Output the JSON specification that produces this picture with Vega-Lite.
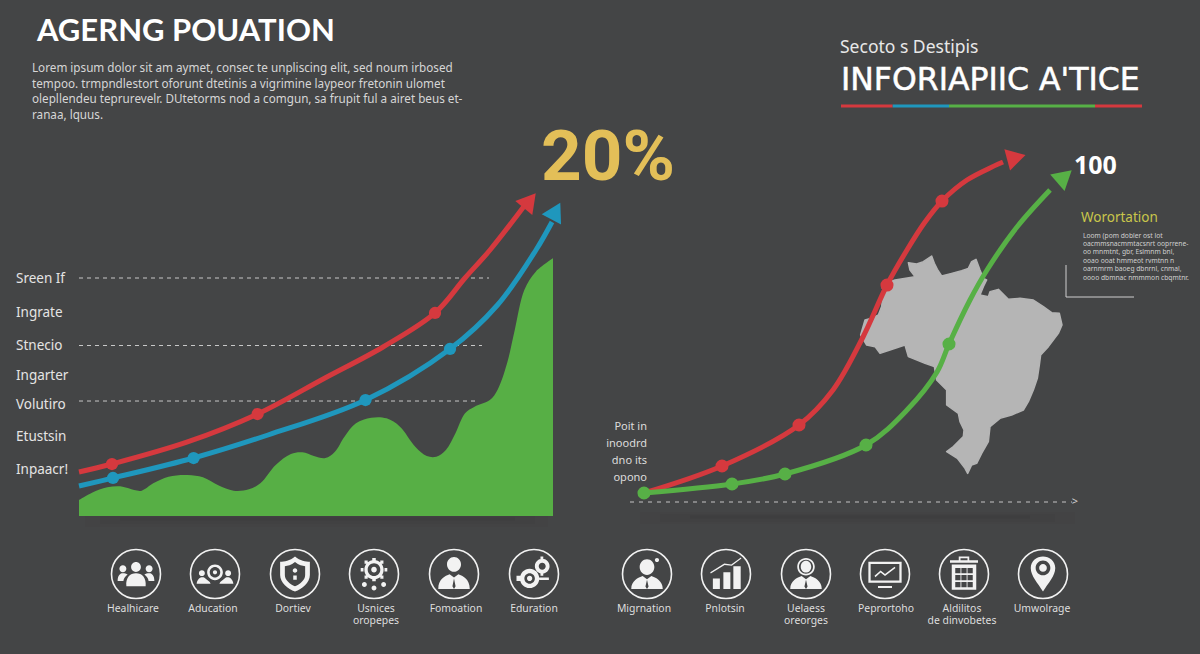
{"$schema":"https://vega.github.io/schema/vega-lite/v6.json","width":1200,"height":654,"padding":0,"autosize":{"type":"fit","contains":"padding"},"background":"#444546","config":{"view":{"stroke":null}},
"datasets":{
"leftArea":[{"t":0,"v":4.44},{"t":2.74,"v":6.48},{"t":5.97,"v":7.96},{"t":9.2,"v":8.15},{"t":11.62,"v":7.22},{"t":13.24,"v":7.04},{"t":15.66,"v":9.07},{"t":18.89,"v":10.93},{"t":22.92,"v":11.39},{"t":26.15,"v":10.74},{"t":29.38,"v":8.52},{"t":32.61,"v":7.04},{"t":35.84,"v":7.41},{"t":38.26,"v":9.07},{"t":41.49,"v":14.17},{"t":44.71,"v":17.22},{"t":47.13,"v":17.69},{"t":49.56,"v":16.67},{"t":51.98,"v":16.11},{"t":53.99,"v":17.87},{"t":56.01,"v":22.04},{"t":58.43,"v":25.74},{"t":61.66,"v":27.31},{"t":64.89,"v":27.13},{"t":67.72,"v":24.81},{"t":70.94,"v":19.26},{"t":73.37,"v":16.67},{"t":75.38,"v":16.48},{"t":77.4,"v":18.33},{"t":79.42,"v":22.96},{"t":81.44,"v":28.52},{"t":83.45,"v":30.37},{"t":86.68,"v":32.22},{"t":88.29,"v":35},{"t":90.31,"v":42.41},{"t":91.93,"v":51.67},{"t":93.95,"v":62.78},{"t":96.37,"v":67.87},{"t":100,"v":71.57}],
"leftLines":[{"s":"red","t":0,"v":12.22},{"s":"red","t":6.96,"v":14.44},{"s":"red","t":22.89,"v":20.56},{"s":"red","t":37.68,"v":28.33},{"s":"red","t":51.9,"v":38.33},{"s":"red","t":64.14,"v":46.94},{"s":"red","t":75.11,"v":56.39},{"s":"red","t":81.43,"v":66.11},{"s":"red","t":86.71,"v":73.89},{"s":"red","t":94.09,"v":86.39},{"s":"blue","t":0,"v":8.33},{"s":"blue","t":7.17,"v":10.56},{"s":"blue","t":24.18,"v":16.11},{"s":"blue","t":39.87,"v":22.5},{"s":"blue","t":60.44,"v":32.22},{"s":"blue","t":78.27,"v":46.39},{"s":"blue","t":88.29,"v":58.61},{"s":"blue","t":96.41,"v":73.89},{"s":"blue","t":99.79,"v":81.67}],
"leftDots":[{"s":"red","t":6.96,"v":14.44},{"s":"red","t":37.68,"v":28.33},{"s":"red","t":75.11,"v":56.39},{"s":"blue","t":7.17,"v":10.56},{"s":"blue","t":24.18,"v":16.11},{"s":"blue","t":60.44,"v":32.22},{"s":"blue","t":78.27,"v":46.39}],
"leftHeads":[{"s":"red","t":95.1,"v":87.6,"heading":39},{"s":"blue","t":100.6,"v":84.7,"heading":28}],
"leftGrid":[{"t":0,"t2":86.5,"v":66.11},{"t":0,"t2":85.02,"v":47.36},{"t":0,"t2":83.76,"v":31.94}],
"rightLines":[{"s":"red","t":0,"v":0},{"s":"red","t":18.14,"v":8.23},{"s":"red","t":36.05,"v":20.73},{"s":"red","t":43.95,"v":31.4},{"s":"red","t":50.93,"v":47.56},{"s":"red","t":56.51,"v":63.41},{"s":"red","t":61.16,"v":74.09},{"s":"red","t":65.35,"v":82.6},{"s":"red","t":69.3,"v":89.02},{"s":"red","t":75.12,"v":95.43},{"s":"red","t":83.49,"v":100.91},{"s":"green","t":0,"v":0},{"s":"green","t":20.47,"v":2.74},{"s":"green","t":32.79,"v":5.79},{"s":"green","t":51.63,"v":14.63},{"s":"green","t":61.16,"v":25.3},{"s":"green","t":68.14,"v":36.89},{"s":"green","t":70.93,"v":45.43},{"s":"green","t":75.81,"v":58.84},{"s":"green","t":79.77,"v":67.99},{"s":"green","t":86.74,"v":81.1},{"s":"green","t":94.42,"v":92.38}],
"rightDots":[{"s":"red","t":18.14,"v":8.23},{"s":"red","t":36.05,"v":20.73},{"s":"red","t":56.51,"v":63.41},{"s":"red","t":69.3,"v":89.02},{"s":"green","t":0,"v":0},{"s":"green","t":20.47,"v":2.74},{"s":"green","t":32.79,"v":5.79},{"s":"green","t":51.63,"v":14.63},{"s":"green","t":70.93,"v":45.43}],
"rightHeads":[{"s":"red","t":86.6,"v":102.3,"heading":75},{"s":"green","t":97.8,"v":96.5,"heading":49}],
"icons":[{"x":136,"y":574,"icon":"people"},{"x":215,"y":574,"icon":"education"},{"x":295,"y":574,"icon":"shield"},{"x":374,"y":574,"icon":"gearnodes"},{"x":454,"y":574,"icon":"persontie"},{"x":534,"y":574,"icon":"gears"},{"x":647,"y":574,"icon":"migrant"},{"x":726,"y":574,"icon":"bars"},{"x":806,"y":574,"icon":"headset"},{"x":885,"y":574,"icon":"monitor"},{"x":964,"y":574,"icon":"building"},{"x":1043,"y":574,"icon":"pin"}],
"iconLabels":[{"x":133,"y":609,"text":"Healhicare"},{"x":213,"y":609,"text":"Aducation"},{"x":293,"y":609,"text":"Dortiev"},{"x":376,"y":609,"text":"Usnices"},{"x":376,"y":621,"text":"oropepes"},{"x":456,"y":609,"text":"Fomoation"},{"x":534,"y":609,"text":"Eduration"},{"x":644,"y":609,"text":"Migrnation"},{"x":725,"y":609,"text":"Pnlotsin"},{"x":806,"y":609,"text":"Uelaess"},{"x":806,"y":621,"text":"oreorges"},{"x":886,"y":609,"text":"Peprortoho"},{"x":962,"y":609,"text":"Aldilitos"},{"x":962,"y":621,"text":"de dinvobetes"},{"x":1042,"y":609,"text":"Umwolrage"}],
"sideLabels":[{"x":16,"y":279,"text":"Sreen If"},{"x":16,"y":313,"text":"Ingrate"},{"x":16,"y":346,"text":"Stnecio"},{"x":16,"y":376,"text":"Ingarter"},{"x":16,"y":405,"text":"Volutiro"},{"x":16,"y":437,"text":"Etustsin"},{"x":16,"y":470,"text":"Inpaacr!"}],
"para":[{"x":32,"y":68,"text":"Lorem ipsum dolor sit am aymet, consec te unpliscing elit, sed noum irbosed"},{"x":32,"y":84,"text":"tempoo. trmpndlestort oforunt dtetinis a vigrimine laypeor fretonin ulomet"},{"x":32,"y":99,"text":"olepllendeu teprurevelr.  DUtetorms nod a comgun, sa frupit ful a airet beus et-"},{"x":32,"y":115,"text":"ranaa, lquus."}],
"smallPara":[{"x":1083,"y":236,"text":"Loom (pom dobler ost lot"},{"x":1083,"y":244,"text":"oacmmsnacmmtacsnrt ooprrene-"},{"x":1083,"y":252,"text":"oo mnmtnt, gbr, Eslmnm bnl,"},{"x":1083,"y":261,"text":"ooao ooat hmmeot rvmtnn n"},{"x":1083,"y":269,"text":"oarnmrm baoeg dbnrnl, cnmal,"},{"x":1083,"y":278,"text":"oooo dbmnac nmmmon cbqmtnr."}],
"pointLabels":[{"x":647,"y":427,"text":"Poit in"},{"x":647,"y":444,"text":"inoodrd"},{"x":647,"y":461,"text":"dno its"},{"x":647,"y":478,"text":"opono"}],
"stripe":[{"x":841,"x2":892.7,"y":106,"s":"red"},{"x":892.7,"x2":949,"y":106,"s":"blue"},{"x":949,"x2":1095,"y":106,"s":"green"},{"x":1095,"x2":1142,"y":106,"s":"red"}],
"bracket":[{"x":1066,"x2":1066,"y":265,"y2":297},{"x":1066,"x2":1134,"y":297,"y2":297}],
"shadowWide":[{"x":640,"x2":1075,"y":518},{"x":85,"x2":548,"y":521}],
"shadowMid":[{"x":660,"x2":1055,"y":518},{"x":100,"x2":535,"y":520}],
"shadowCore":[{"x":690,"x2":1030,"y":517},{"x":120,"x2":515,"y":519}]
},
"resolve":{"scale":{"x":"independent","y":"independent"}},
"layer":[
{"encoding":{"x":{"field":"x","type":"quantitative","scale":{"domain":[0,1200],"range":[0,1200]},"axis":null},"y":{"field":"y","type":"quantitative","scale":{"domain":[0,654],"range":[0,654]},"axis":null}},
"layer":[
{"data":{"name":"shadowWide"},"mark":{"type":"rule","stroke":"#303031","strokeWidth":12,"opacity":0.06},"encoding":{"x2":{"field":"x2"}}},
{"data":{"name":"shadowMid"},"mark":{"type":"rule","stroke":"#303031","strokeWidth":7,"opacity":0.1},"encoding":{"x2":{"field":"x2"}}},
{"data":{"name":"shadowCore"},"mark":{"type":"rule","stroke":"#303031","strokeWidth":3,"opacity":0.16},"encoding":{"x2":{"field":"x2"}}},
{"data":{"values":[{"x":37,"y":32,"text":"AGERNG POUATION"}]},"mark":{"type":"text","align":"left","baseline":"middle","font":"Lato","fontWeight":"bold","fontSize":31,"fill":"#ffffff"},"encoding":{"text":{"field":"text"}}},
{"data":{"name":"para"},"mark":{"type":"text","align":"left","baseline":"middle","font":"Noto Sans","fontSize":11.7,"fill":"#d6d6d6"},"encoding":{"text":{"field":"text"}}},
{"data":{"values":[{"x":541,"y":159,"text":"20%"}]},"mark":{"type":"text","align":"left","baseline":"middle","font":"Roboto","fontWeight":"bold","fontSize":71,"fill":"#E3BF58"},"encoding":{"text":{"field":"text"}}},
{"data":{"name":"sideLabels"},"mark":{"type":"text","align":"left","baseline":"middle","font":"Noto Sans","fontSize":13.5,"fill":"#e4e4e4"},"encoding":{"text":{"field":"text"}}},
{"data":{"values":[{"x":840,"y":48,"text":"Secoto s Destipis"}]},"mark":{"type":"text","align":"left","baseline":"middle","font":"Noto Sans","fontSize":17.5,"fill":"#e8e8e8"},"encoding":{"text":{"field":"text"}}},
{"data":{"values":[{"x":841,"y":81,"text":"INFORIAPIIC A'TICE"}]},"mark":{"type":"text","align":"left","baseline":"middle","font":"DejaVu Sans","fontSize":31.5,"fill":"#ffffff","stroke":"#ffffff","strokeWidth":0.5},"encoding":{"text":{"field":"text"}}},
{"data":{"name":"stripe"},"mark":{"type":"rule","strokeWidth":3},"encoding":{"x2":{"field":"x2"},"color":{"field":"s","type":"nominal","scale":{"domain":["red","blue","green"],"range":["#D5393E","#1F97BD","#57B046"]},"legend":null}}},
{"data":{"values":[{"x":1074,"y":166,"text":"100"}]},"mark":{"type":"text","align":"left","baseline":"middle","font":"Open Sans","fontWeight":"bold","fontSize":25,"fill":"#ffffff"},"encoding":{"text":{"field":"text"}}},
{"data":{"values":[{"x":1081,"y":218,"text":"Worortation"}]},"mark":{"type":"text","align":"left","baseline":"middle","font":"Noto Sans","fontSize":13.5,"fill":"#C9C64B"},"encoding":{"text":{"field":"text"}}},
{"data":{"name":"smallPara"},"mark":{"type":"text","align":"left","baseline":"middle","font":"Noto Sans","fontSize":6.7,"fill":"#d0d0d0"},"encoding":{"text":{"field":"text"}}},
{"data":{"name":"bracket"},"mark":{"type":"rule","stroke":"#cfcfcf","strokeWidth":1},"encoding":{"x2":{"field":"x2"},"y2":{"field":"y2"}}},
{"data":{"name":"pointLabels"},"mark":{"type":"text","align":"right","baseline":"middle","font":"Noto Sans","fontSize":11,"fill":"#dcdcdc"},"encoding":{"text":{"field":"text"}}},
{"data":{"values":[{"x":630,"x2":1072,"y":502}]},"mark":{"type":"rule","stroke":"#c4c4c4","strokeWidth":1,"strokeDash":[4,5]},"encoding":{"x2":{"field":"x2"}}},
{"data":{"values":[{"x":1075,"y":502,"text":">"}]},"mark":{"type":"text","align":"center","baseline":"middle","font":"Noto Sans","fontSize":11,"fill":"#d0d0d0"},"encoding":{"text":{"field":"text"}}},
{"data":{"name":"icons"},"mark":{"type":"point","shape":"circle","filled":false,"size":2401,"stroke":"#f2f2f2","strokeWidth":1.6,"opacity":1}},
{"data":{"name":"icons"},"mark":{"type":"point","filled":true,"size":1225,"fill":"#f2f2f2","opacity":1,"strokeWidth":0},"encoding":{"shape":{"field":"icon","type":"nominal","legend":null,"scale":{"domain":["people","education","shield","gearnodes","persontie","gears","migrant","bars","headset","monitor","building","pin"],"range":[
"M-0.28 -0.4a0.28 0.28 0 1 1 0.56 0a0.28 0.28 0 1 1 -0.56 0ZM-0.55 0.7C-0.6 0.2 -0.35 -0.05 0 -0.05C0.35 -0.05 0.6 0.2 0.55 0.7ZM-0.95 -0.3a0.2 0.2 0 1 1 0.4 0a0.2 0.2 0 1 1 -0.4 0ZM0.55 -0.3a0.2 0.2 0 1 1 0.4 0a0.2 0.2 0 1 1 -0.4 0ZM-1.05 0.4C-1.05 0.05 -0.9 -0.05 -0.75 -0.05C-0.65 -0.05 -0.55 -0.02 -0.48 0.03C-0.62 0.13 -0.7 0.25 -0.72 0.4ZM1.05 0.4C1.05 0.05 0.9 -0.05 0.75 -0.05C0.65 -0.05 0.55 -0.02 0.48 0.03C0.62 0.13 0.7 0.25 0.72 0.4Z",
"M-0.45 -0.1a0.45 0.45 0 1 1 0.9 0a0.45 0.45 0 1 1 -0.9 0ZM-0.3 -0.1a0.3 0.3 0 1 0 0.6 0a0.3 0.3 0 1 0 -0.6 0ZM-0.12 -0.1a0.12 0.12 0 1 1 0.24 0a0.12 0.12 0 1 1 -0.24 0ZM-0.92 -0.05a0.17 0.17 0 1 1 0.34 0a0.17 0.17 0 1 1 -0.34 0ZM0.58 -0.05a0.17 0.17 0 1 1 0.34 0a0.17 0.17 0 1 1 -0.34 0ZM-1.05 0.55C-1 0.25 -0.8 0.15 -0.62 0.2L-0.3 0.45L-0.25 0.55ZM1.05 0.55C1 0.25 0.8 0.15 0.62 0.2L0.3 0.45L0.25 0.55Z",
"M0 -1C0.3 -0.75 0.6 -0.7 0.85 -0.7L0.85 0.05C0.85 0.5 0.4 0.85 0 1C-0.4 0.85 -0.85 0.5 -0.85 0.05L-0.85 -0.7C-0.6 -0.7 -0.3 -0.75 0 -1ZM0 -0.68C-0.22 -0.5 -0.42 -0.46 -0.58 -0.44L-0.58 0.05C-0.58 0.35 -0.28 0.58 0 0.7C0.28 0.58 0.58 0.35 0.58 0.05L0.58 -0.44C0.42 -0.46 0.22 -0.5 0 -0.68ZM-0.13 -0.2a0.13 0.13 0 1 1 0.26 0a0.13 0.13 0 1 1 -0.26 0ZM-0.1 0.08h0.2v0.25h-0.2Z",
"M-0.55 -0.25a0.55 0.55 0 1 1 1.1 0a0.55 0.55 0 1 1 -1.1 0ZM-0.36 -0.25a0.36 0.36 0 1 0 0.72 0a0.36 0.36 0 1 0 -0.72 0ZM-0.16 -0.25a0.16 0.16 0 1 1 0.32 0a0.16 0.16 0 1 1 -0.32 0ZM-0.1 -0.92h0.2v0.16h-0.2ZM-0.1 0.26h0.2v0.16h-0.2ZM-0.76 -0.35h0.16v0.2h-0.16ZM0.6 -0.35h0.16v0.2h-0.16ZM0.36 -0.77h0.18v0.18h-0.18ZM-0.54 -0.77h0.18v0.18h-0.18ZM0.36 0.09h0.18v0.18h-0.18ZM-0.54 0.09h0.18v0.18h-0.18ZM-0.69 0.6a0.14 0.14 0 1 1 0.28 0a0.14 0.14 0 1 1 -0.28 0ZM-0.14 0.8a0.14 0.14 0 1 1 0.28 0a0.14 0.14 0 1 1 -0.28 0ZM0.41 0.6a0.14 0.14 0 1 1 0.28 0a0.14 0.14 0 1 1 -0.28 0Z",
"M-0.4 -0.55a0.4 0.42 0 1 1 0.8 0a0.4 0.42 0 1 1 -0.8 0ZM-0.9 0.85C-0.9 0.3 -0.5 0.1 -0.25 0.02L0 0.2L0.25 0.02C0.5 0.1 0.9 0.3 0.9 0.85ZM0 0.25L-0.09 0.7L0 0.85L0.09 0.7Z",
"M-0.8 0.25a0.55 0.55 0 1 1 1.1 0a0.55 0.55 0 1 1 -1.1 0ZM-0.55 0.25a0.3 0.3 0 1 0 0.6 0a0.3 0.3 0 1 0 -0.6 0ZM-0.4 0.25a0.15 0.15 0 1 1 0.3 0a0.15 0.15 0 1 1 -0.3 0ZM0.05 -0.45a0.42 0.42 0 1 1 0.84 0a0.42 0.42 0 1 1 -0.84 0ZM0.27 -0.45a0.2 0.2 0 1 0 0.4 0a0.2 0.2 0 1 0 -0.4 0ZM0.37 -1h0.16v0.2h-0.16ZM0.37 -0.1h0.16v0.2h-0.16ZM0.3 0.2h0.55v0.14h-0.55ZM-1 0.1h0.25v0.3h-0.25Z",
"M-0.42 -0.4a0.42 0.45 0 1 1 0.84 0a0.42 0.45 0 1 1 -0.84 0ZM0.45 -0.8a0.12 0.12 0 1 1 0.24 0a0.12 0.12 0 1 1 -0.24 0ZM-0.9 0.85C-0.9 0.4 -0.5 0.2 -0.25 0.12L0 0.3L0.25 0.12C0.5 0.2 0.9 0.4 0.9 0.85ZM0 0.33L-0.09 0.72L0 0.85L0.09 0.72Z",
"M-0.75 0.85v-0.6h0.4v0.6ZM-0.15 0.85v-0.95h0.4v0.95ZM0.42 0.85v-1.3h0.42v1.3ZM-0.9 -0.1L-0.1 -0.6L0.3 -0.55L0.85 -0.95L0.88 -0.88L0.33 -0.47L-0.08 -0.52L-0.87 -0.03Z",
"M-0.5 -0.42a0.5 0.5 0 1 1 1 0a0.5 0.5 0 1 1 -1 0ZM-0.4 -0.42a0.4 0.4 0 1 0 0.8 0a0.4 0.4 0 1 0 -0.8 0ZM-0.3 -0.42a0.3 0.34 0 1 1 0.6 0a0.3 0.34 0 1 1 -0.6 0ZM-0.9 0.85C-0.9 0.4 -0.5 0.2 -0.25 0.12L0 0.3L0.25 0.12C0.5 0.2 0.9 0.4 0.9 0.85ZM0 0.33L-0.09 0.72L0 0.85L0.09 0.72Z",
"M-0.95 -0.7H0.95V0.5H-0.95ZM-0.82 -0.57V0.37H0.82V-0.57ZM-0.6 0.1L-0.25 -0.2L0 0L0.55 -0.42L0.6 -0.35L0 0.12L-0.25 -0.08L-0.55 0.18ZM-0.4 0.68H0.4V0.8H-0.4Z",
"M-0.7 -0.55H0.7V0.9H-0.7ZM-0.5 -0.35v0.3h0.3v-0.3ZM-0.15 -0.35v0.3h0.3v-0.3ZM0.2 -0.35v0.3h0.3v-0.3ZM-0.5 0.05v0.3h0.3v-0.3ZM-0.15 0.05v0.3h0.3v-0.3ZM0.2 0.05v0.3h0.3v-0.3ZM-0.5 0.45v0.3h0.3v-0.3ZM-0.15 0.45v0.3h0.3v-0.3ZM0.2 0.45v0.3h0.3v-0.3ZM-0.8 -0.78H0.8V-0.64H-0.8ZM-0.3 -1H0.3V-0.78H0.2V-0.9H-0.2V-0.78H-0.3Z",
"M0 1C-0.3 0.5 -0.7 0.1 -0.7 -0.35C-0.7 -0.75 -0.35 -1 0 -1C0.35 -1 0.7 -0.75 0.7 -0.35C0.7 0.1 0.3 0.5 0 1ZM-0.42 -0.35a0.42 0.42 0 1 0 0.84 0a0.42 0.42 0 1 0 -0.84 0ZM-0.22 -0.35a0.22 0.22 0 1 1 0.44 0a0.22 0.22 0 1 1 -0.44 0Z"
]}}}},
{"data":{"name":"iconLabels"},"mark":{"type":"text","align":"center","baseline":"middle","font":"Noto Sans","fontSize":10.4,"fill":"#dedede"},"encoding":{"text":{"field":"text"}}}
]},
{"encoding":{"x":{"field":"t","type":"quantitative","scale":{"domain":[0,100],"range":[79,553]},"axis":null},"y":{"field":"v","type":"quantitative","scale":{"domain":[0,100],"range":[516,156]},"axis":null}},
"layer":[
{"data":{"name":"leftArea"},"mark":{"type":"area","interpolate":"catmull-rom","fill":"#57AF45"}},
{"data":{"name":"leftGrid"},"mark":{"type":"rule","stroke":"#c8c8c8","strokeWidth":1,"strokeDash":[4,4]},"encoding":{"x2":{"field":"t2"}}},
{"data":{"name":"leftLines"},"mark":{"type":"line","interpolate":"catmull-rom","strokeWidth":5},"encoding":{"color":{"field":"s","type":"nominal","legend":null}}},
{"data":{"name":"leftDots"},"mark":{"type":"point","shape":"circle","filled":true,"size":150,"opacity":1},"encoding":{"color":{"field":"s","type":"nominal","legend":null}}},
{"data":{"name":"leftHeads"},"mark":{"type":"point","shape":"triangle-up","filled":true,"size":480,"opacity":1},"encoding":{"color":{"field":"s","type":"nominal","legend":null},"angle":{"field":"heading","type":"quantitative","scale":null}}}
]},
{"data":{"values":{"type":"Feature","properties":{"name":"Brazil"},"geometry":{"type":"Polygon","coordinates":[[[-64.73,3.67],[-63.07,3.4],[-61.73,3.87],[-60.07,5],[-59.53,3.53],[-58.93,2.33],[-58.07,1],[-56.07,1.53],[-54.07,2.07],[-52.73,2.53],[-52.07,3.87],[-51.2,4.33],[-50.4,2.2],[-49.73,0.53],[-49.07,0.2],[-49.73,-1.13],[-50.4,-2.8],[-48.73,-3.13],[-48.4,-2.13],[-46.73,-1.67],[-44.73,-3.67],[-42.4,-3.47],[-39.73,-3.8],[-37.73,-5.13],[-36.07,-6.33],[-34.53,-6.47],[-34,-8.8],[-34.73,-10.47],[-36.73,-13.13],[-38.27,-14.8],[-38.53,-16.8],[-38.93,-19.47],[-39.73,-21.8],[-40.73,-24.13],[-41.73,-25.8],[-44.07,-26.8],[-46.4,-27.47],[-48.4,-29.13],[-48.73,-32.13],[-50.07,-34.47],[-51.07,-36.47],[-52.07,-36.8],[-52.87,-38.47],[-53.4,-37.47],[-54.93,-35.47],[-57.07,-34.13],[-55.73,-33.13],[-53.73,-31.13],[-53.6,-29.8],[-54.4,-28.13],[-54.73,-26.47],[-57.07,-24.8],[-57.07,-21.8],[-59.07,-19.8],[-59.53,-17.13],[-61.4,-16.47],[-64.73,-15.13],[-65.4,-12.8],[-68.4,-13.8],[-70.4,-14.47],[-71.4,-13.13],[-73.07,-12.8],[-74.27,-10.8],[-73.4,-7.8],[-72.07,-7.47],[-70.73,-6.8],[-70.07,-5.13],[-69.73,-2.13],[-70.07,-0.8],[-68.4,-0.13],[-67.4,0.2],[-63.4,0.87],[-64.4,2.2],[-64.73,3.67]]]}},"format":{"type":"json"}},
"projection":{"type":"identity","reflectY":true,"scale":5,"translate":[1232,281]},"mark":{"type":"geoshape","fill":"#B5B5B5","stroke":"#B5B5B5","strokeWidth":1.5,"strokeJoin":"round"}},
{"encoding":{"x":{"field":"t","type":"quantitative","scale":{"domain":[0,100],"range":[644,1074]},"axis":null},"y":{"field":"v","type":"quantitative","scale":{"domain":[0,100],"range":[493,165]},"axis":null}},
"layer":[
{"data":{"name":"rightLines"},"mark":{"type":"line","interpolate":"catmull-rom","strokeWidth":5},"encoding":{"color":{"field":"s","type":"nominal","legend":null}}},
{"data":{"name":"rightDots"},"mark":{"type":"point","shape":"circle","filled":true,"size":170,"opacity":1},"encoding":{"color":{"field":"s","type":"nominal","legend":null}}},
{"data":{"name":"rightHeads"},"mark":{"type":"point","shape":"triangle-up","filled":true,"size":480,"opacity":1},"encoding":{"color":{"field":"s","type":"nominal","legend":null},"angle":{"field":"heading","type":"quantitative","scale":null}}}
]}
]}
